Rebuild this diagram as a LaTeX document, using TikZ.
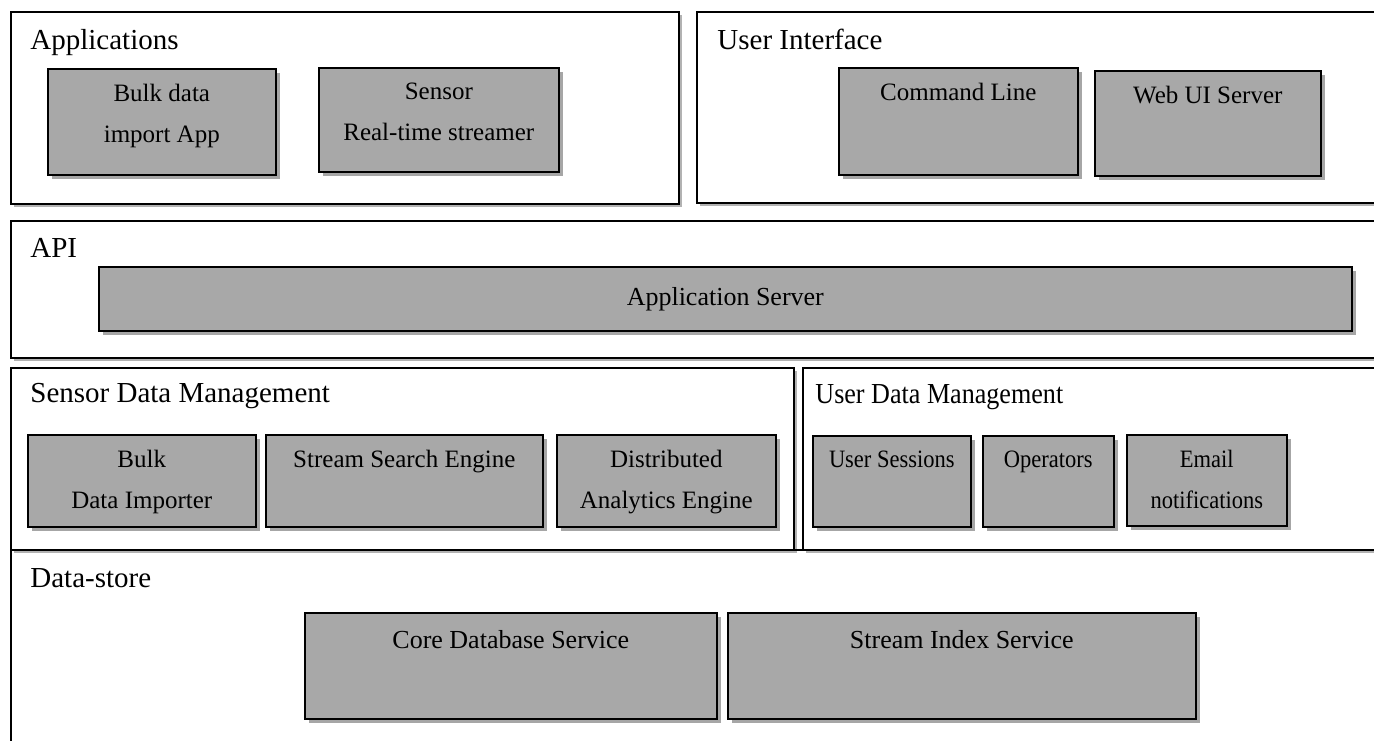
\documentclass[tikz,border=0pt]{standalone}
\usepackage{fontspec}
\setmainfont{Liberation Serif}
\newfontfamily\narrowserif[FakeStretch=0.9]{Liberation Serif}
\usetikzlibrary{positioning,shadows}
\definecolor{boxgray}{HTML}{A8A8A8}

\tikzset{
  panel/.style={draw=black, line width=1pt, fill=white, anchor=north west, inner sep=0pt,
    drop shadow={shadow xshift=1.5pt, shadow yshift=-1.5pt, fill=black, opacity=0.3}},
  box/.style={draw=black, line width=0.8pt, fill=boxgray, anchor=north west, inner sep=0pt,
    font=\fontsize{13}{20.5}\selectfont,
    drop shadow={shadow xshift=2pt, shadow yshift=-2pt, fill=black, opacity=0.35}},
  title/.style={anchor=base west, inner sep=0pt, font=\fontsize{14.5}{17}\selectfont},
  lbl/.style={align=center, inner sep=0pt, outer sep=0pt, font=\fontsize{12.5}{20.5}\selectfont},
  narrow/.style={font=\narrowserif\fontsize{12.5}{20.5}\selectfont},
  wide/.style={font=\fontsize{13}{20.5}\selectfont}
}

\begin{document}
\begin{tikzpicture}[x=0.5pt, y=-0.5pt]
\useasboundingbox (0,0) rectangle (1374,740);
\clip (0,0) rectangle (1374,740);

% Panels
\node[panel, minimum width=690pt, minimum height=110pt] (store) at (10,549) {};
\node[panel, minimum width=334pt, minimum height=96pt] (apps) at (10,11) {};
\node[panel, minimum width=350pt, minimum height=95.5pt] (ui) at (696,11) {};
\node[panel, minimum width=690pt, minimum height=68.5pt] (api) at (10,220) {};
\node[panel, minimum width=391.5pt, minimum height=91pt] (sdm) at (10,367) {};
\node[panel, minimum width=295pt, minimum height=91pt] (udm) at (802,367) {};

% Panel titles
\node[title] (tapps) at (30,49) {Applications};
\node[title] (tui) at (717,49) {User Interface};
\node[title] (tapi) at (30,257) {API};
\node[title] (tsdm) at (30,402) {Sensor Data Management};
\node[title, font=\narrowserif\fontsize{14.5}{17}\selectfont] (tudm) at (815,403) {User Data Management};
\node[title] (tstore) at (30,587) {Data-store};

% Applications
\node[box, minimum width=114pt, minimum height=53pt] (bulkapp) at (47,68) {};
\node[box, minimum width=120pt, minimum height=52pt] (sensorapp) at (318,67) {};
\node[lbl, below=8pt of bulkapp.north] (tbulkapp) {Bulk data\\import App};
\node[lbl, below=8pt of sensorapp.north] (tsensorapp) {Sensor\\Real-time streamer};

% User Interface
\node[box, minimum width=119.5pt, minimum height=53.5pt] (cmdline) at (838,67) {};
\node[box, minimum width=113pt, minimum height=52.5pt] (webui) at (1094,70) {};
\node[lbl, below=8pt of cmdline.north] (tcmdline) {Command Line};
\node[lbl, below=8pt of webui.north] (twebui) {Web UI Server};

% API
\node[box, minimum width=626.5pt, minimum height=32pt] (appserver) at (98,266) {Application Server};

% Sensor Data Management
\node[box, minimum width=114pt, minimum height=46pt] (bulkimp) at (27,434) {};
\node[box, minimum width=138.5pt, minimum height=46pt] (search) at (265,434) {};
\node[box, minimum width=109.5pt, minimum height=46pt] (analytics) at (556,434) {};
\node[lbl, below=8pt of bulkimp.north] (tbulkimp) {Bulk\\Data Importer};
\node[lbl, below=8pt of search.north] (tsearch) {Stream Search Engine};
\node[lbl, below=8pt of analytics.north] (tanalytics) {Distributed\\Analytics Engine};

% User Data Management
\node[box, minimum width=79pt, minimum height=45.5pt] (sessions) at (812,435) {};
\node[box, minimum width=65.5pt, minimum height=45.5pt] (operators) at (982,435) {};
\node[box, minimum width=80pt, minimum height=45.5pt] (email) at (1126,434) {};
\node[lbl, narrow, below=8pt of sessions.north] (tsessions) {User Sessions};
\node[lbl, narrow, below=8pt of operators.north] (toperators) {Operators};
\node[lbl, narrow, below=8pt of email.north] (temail) {Email\\notifications};

% Data-store
\node[box, minimum width=206pt, minimum height=53pt] (coredb) at (304,612) {};
\node[box, minimum width=234pt, minimum height=53pt] (index) at (727,612) {};
\node[lbl, wide, below=9pt of coredb.north] (tcoredb) {Core Database Service};
\node[lbl, wide, below=9pt of index.north] (tindex) {Stream Index Service};
\end{tikzpicture}
\end{document}
